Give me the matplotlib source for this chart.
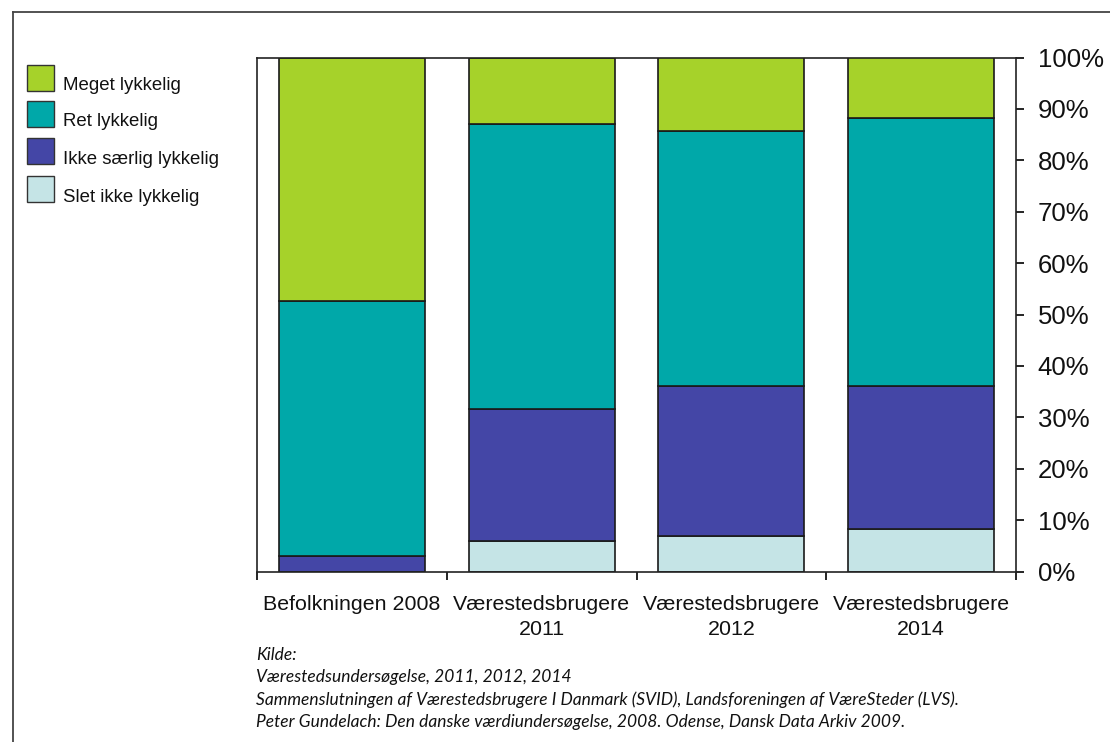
import matplotlib
matplotlib.use("Agg")
import matplotlib.pyplot as plt
from matplotlib.patches import Rectangle
from matplotlib.lines import Line2D
import numpy as np

plt.rcParams['font.family'] = ['Liberation Sans', 'DejaVu Sans']

# Data (percent of respondents)
categories = ["Befolkningen 2008", "Værestedsbrugere\n2011",
              "Værestedsbrugere\n2012", "Værestedsbrugere\n2014"]
series_names = ["Meget lykkelig", "Ret lykkelig", "Ikke særlig lykkelig", "Slet ikke lykkelig"]
slet_ikke = [0.0, 5.9, 7.0, 8.3]
ikke_saerlig = [3.1, 25.7, 29.0, 27.7]
ret = [49.5, 55.5, 49.7, 52.2]
meget = [47.4, 12.9, 14.3, 11.8]
y_ticks = [0, 10, 20, 30, 40, 50, 60, 70, 80, 90, 100]
source_lines = [
    "Kilde:",
    "Værestedsundersøgelse, 2011, 2012, 2014",
    "Sammenslutningen af Værestedsbrugere I Danmark (SVID), Landsforeningen af VæreSteder (LVS).",
    "Peter Gundelach: Den danske værdiundersøgelse, 2008. Odense, Dansk Data Arkiv 2009.",
]

colors = {
    "Meget lykkelig": "#A6D22A",
    "Ret lykkelig": "#00A8A9",
    "Ikke særlig lykkelig": "#4446A6",
    "Slet ikke lykkelig": "#C5E4E6",
}

W, H = 1110, 742
fig = plt.figure(figsize=(W / 100, H / 100), dpi=100)
ax = fig.add_axes([257 / W, 1 - 571.5 / H, (1016 - 257) / W, (571.5 - 57.5) / H])

x = np.arange(len(categories))
bw = 0.77
stack = [("Slet ikke lykkelig", slet_ikke), ("Ikke særlig lykkelig", ikke_saerlig),
         ("Ret lykkelig", ret), ("Meget lykkelig", meget)]
bottom = np.zeros(len(categories))
for name, vals in stack:
    vals = np.array(vals)
    ax.bar(x, vals, bw, bottom=bottom, color=colors[name], edgecolor="#1a1a1a",
           linewidth=1.2, zorder=2)
    bottom += vals

ax.set_xlim(-0.5, len(categories) - 0.5)
ax.set_ylim(0, 100)

# Right-hand percent axis
ax.yaxis.tick_right()
ax.set_yticks(y_ticks)
ax.set_yticklabels([f"{v}%" for v in y_ticks], fontsize=18.5, color="#111111")
ax.tick_params(axis="y", which="major", direction="out", length=5.5, width=1.2, pad=10)

# Category separators as ticks; labels centered on the bars
ax.set_xticks(np.arange(-0.5, len(categories), 1.0))
ax.set_xticklabels([])
ax.set_xticks(x, minor=True)
ax.set_xticklabels(categories, minor=True, fontsize=15.4, linespacing=1.42, color="#111111")
ax.tick_params(axis="x", which="major", direction="out", length=5.5, width=1.2)
ax.tick_params(axis="x", which="minor", length=0, pad=17)

for s in ax.spines.values():
    s.set_linewidth(1.2)
    s.set_color("#222222")

# Legend drawn in figure pixels
leg_y = [65, 101, 138, 176]
for name, ytop in zip(series_names, leg_y):
    fig.patches.append(Rectangle((27 / W, 1 - (ytop + 26) / H), 27 / W, 26 / H,
                                 transform=fig.transFigure, facecolor=colors[name],
                                 edgecolor="#333333", linewidth=1.0))
    fig.text(63 / W, 1 - (ytop + 21) / H, name, fontsize=13.4, va="center", ha="left",
             color="#111111")

# Source notes
for i, line in enumerate(source_lines):
    fig.text(256 / W, 1 - (655 + i * 22.3) / H, line, fontsize=12.5, style="italic",
             family=["Lato", "DejaVu Sans"], va="center", ha="left", color="#111111")

# Outer frame
fig.add_artist(Line2D([13 / W, 1.0], [1 - 12 / H, 1 - 12 / H], transform=fig.transFigure,
                      color="#444444", linewidth=1.3))
fig.add_artist(Line2D([13 / W, 13 / W], [0.0, 1 - 12 / H], transform=fig.transFigure,
                      color="#444444", linewidth=1.3))

fig.savefig("out.png", dpi=100)
